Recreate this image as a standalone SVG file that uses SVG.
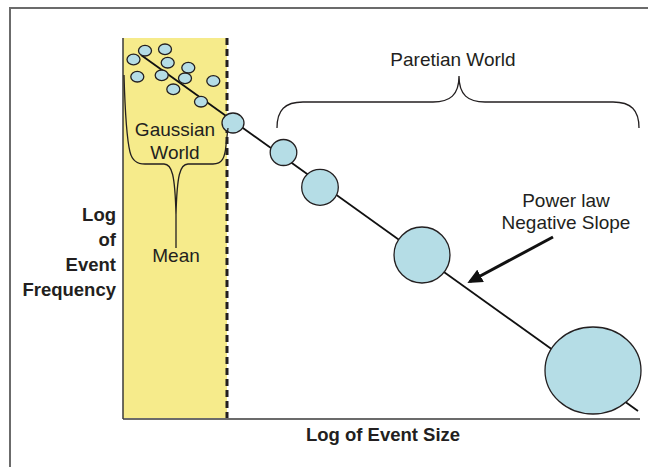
<svg xmlns="http://www.w3.org/2000/svg" width="648" height="467" viewBox="0 0 648 467">
<style>
  .txt { font-family: "Liberation Sans", Arial, sans-serif; fill: #231f20; }
  .lbl { font-size: 19px; text-anchor: middle; }
  .ax { font-size: 18.5px; font-weight: bold; }
  .dot { fill: #b5dde6; stroke: #231f20; stroke-width: 1.3; }
  .brace { fill: none; stroke: #231f20; stroke-width: 1.3; }
</style>
<defs>
  <marker id="ah" markerUnits="userSpaceOnUse" markerWidth="16" markerHeight="14" refX="12" refY="7" orient="auto">
    <path d="M0,0 L15,7 L0,14 z" fill="#111"/>
  </marker>
</defs>
<rect width="648" height="467" fill="#fff"/>
<g id="frame">
  <path d="M10,480 L10,8 L660,8" fill="none" stroke="#6b6b6b" stroke-width="2"/>
</g>
<g id="gaussian-zone">
  <rect x="123" y="38" width="104" height="380" fill="#f6eb8b"/>
  <line x1="227" y1="38" x2="227" y2="418" stroke="#231f20" stroke-width="3" stroke-dasharray="7,4"/>
</g>
<g id="axes">
  <line x1="123" y1="38" x2="123" y2="419" stroke="#3a3a3a" stroke-width="1.5"/>
  <line x1="123" y1="419" x2="640" y2="419" stroke="#3a3a3a" stroke-width="1.5"/>
  <g class="txt ax" text-anchor="end">
    <text x="116" y="221">Log</text>
    <text x="116" y="246">of</text>
    <text x="116" y="271">Event</text>
    <text x="116" y="296">Frequency</text>
  </g>
  <text class="txt ax" x="383" y="441" text-anchor="middle">Log of Event Size</text>
</g>
<g id="connectors">
  <line id="power-law-line" x1="141" y1="55" x2="638" y2="411" stroke="#111" stroke-width="1.8"/>
  <line id="slope-arrow" x1="553" y1="237" x2="470" y2="281.5" stroke="#111" stroke-width="3" marker-end="url(#ah)"/>
</g>
<g id="gaussian-dots">
  <ellipse class="dot" cx="133.5" cy="59.5" rx="6.5" ry="5.3"/>
  <ellipse class="dot" cx="145" cy="50.7" rx="6.5" ry="5.3"/>
  <ellipse class="dot" cx="165" cy="49.3" rx="6.5" ry="5.3"/>
  <ellipse class="dot" cx="167.7" cy="62.7" rx="6.5" ry="5.3"/>
  <ellipse class="dot" cx="188.3" cy="67.7" rx="6.5" ry="5.3"/>
  <ellipse class="dot" cx="137.3" cy="76.7" rx="6.5" ry="5.3"/>
  <ellipse class="dot" cx="161.7" cy="75.3" rx="6.5" ry="5.3"/>
  <ellipse class="dot" cx="185" cy="78.3" rx="6.5" ry="5.3"/>
  <ellipse class="dot" cx="213.3" cy="81" rx="6.5" ry="5.3"/>
  <ellipse class="dot" cx="173.3" cy="89.3" rx="6.5" ry="5.3"/>
  <ellipse class="dot" cx="201" cy="101.7" rx="6.5" ry="5.3"/>
</g>
<g id="event-1"><ellipse class="dot" cx="233" cy="123" rx="11" ry="10"/></g>
<g id="event-2"><ellipse class="dot" cx="283.5" cy="152.5" rx="13.3" ry="13"/></g>
<g id="event-3"><ellipse class="dot" cx="320" cy="187.3" rx="18.3" ry="18"/></g>
<g id="event-4"><ellipse class="dot" cx="422" cy="255" rx="28" ry="28"/></g>
<g id="event-5"><ellipse class="dot" cx="593" cy="370.5" rx="48" ry="43.5"/></g>
<g id="gaussian-world">
  <path class="brace" d="M124,75 C125,110 127,140 130,152 C132,160 136,164 145,164 L164,164 C172,164 175,175 176,215 L176,248 M176,215 C177,175 180,164 188,164 L213,164 C222,164 225,158 226,145 L228,128"/>
  <text class="txt lbl" x="175" y="136">Gaussian</text>
  <text class="txt lbl" x="175" y="159">World</text>
  <text class="txt lbl" x="176" y="262">Mean</text>
</g>
<g id="paretian-world">
  <path class="brace" d="M277,128 C277,110 285,102 303,102 L433,102 C450,102 459,95 459,76 C459,95 468,102 485,102 L613,102 C631,102 639,110 639,128"/>
  <text class="txt lbl" x="453" y="66">Paretian World</text>
</g>
<g id="power-law-label">
  <text class="txt lbl" x="566" y="207">Power law</text>
  <text class="txt lbl" x="566" y="229">Negative Slope</text>
</g>
</svg>
